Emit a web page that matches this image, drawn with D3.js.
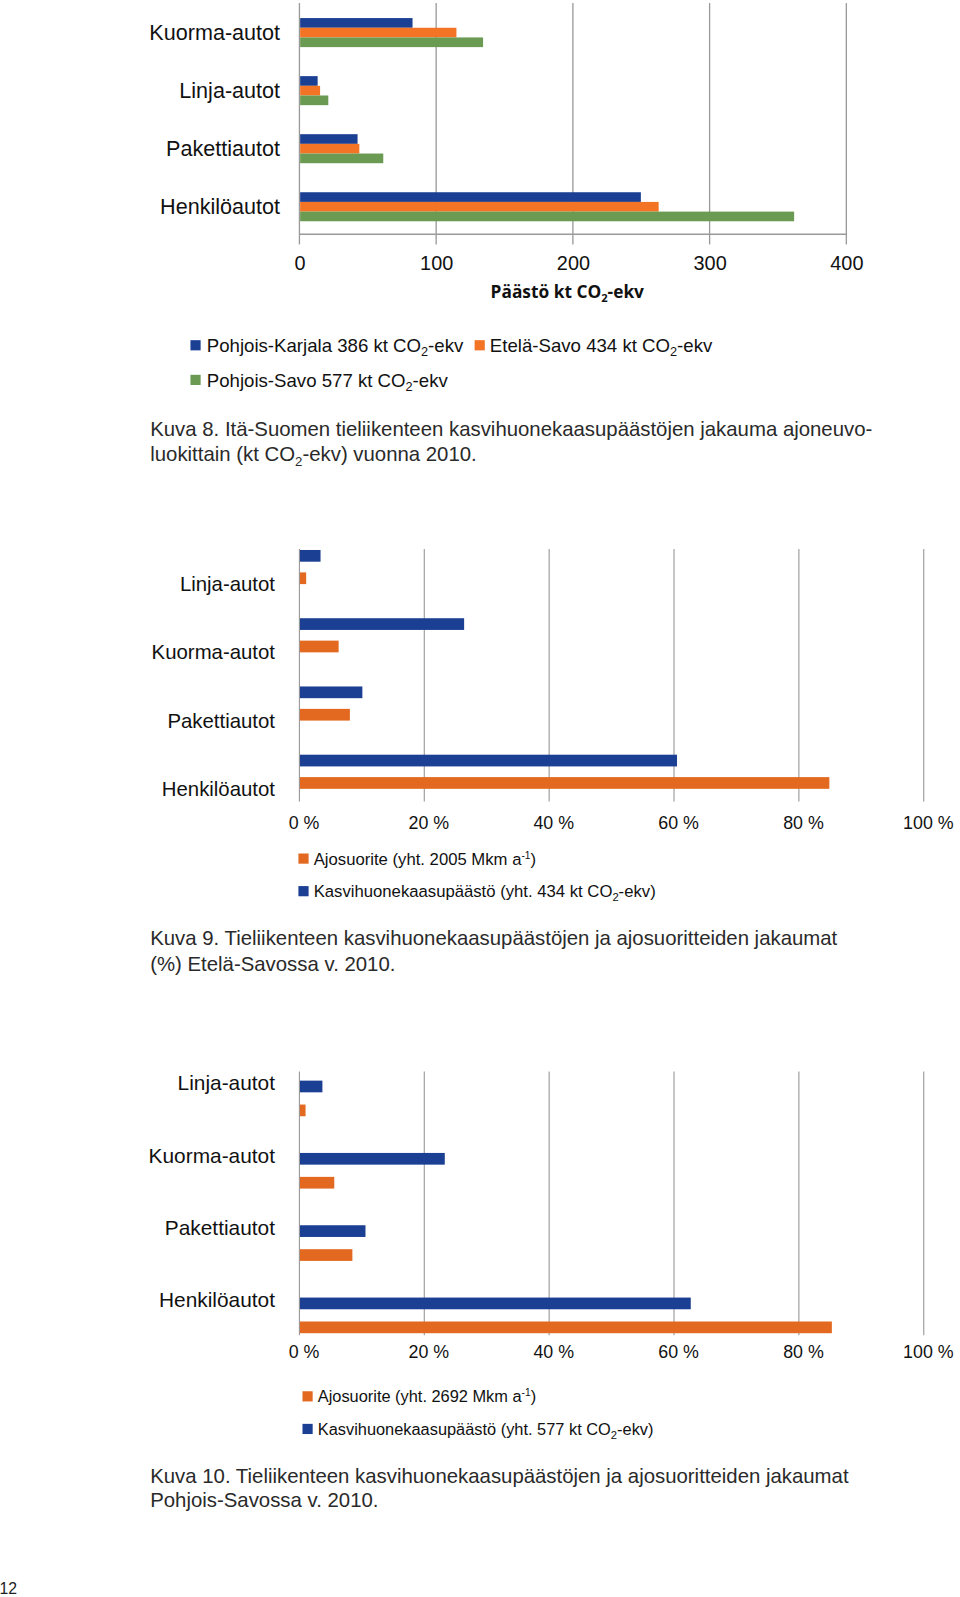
<!DOCTYPE html>
<html><head><meta charset="utf-8">
<script src="https://cdn.jsdelivr.net/npm/d3@7"></script>
<style>
html,body{margin:0;padding:0;background:#fff;}
svg{display:block;font-family:"Liberation Sans",Arial,sans-serif;}
</style></head>
<body>
<svg id="c" width="960" height="1597" viewBox="0 0 942.6 1568" preserveAspectRatio="none"></svg>
<script>
// ---------- DATA ----------
// Chart 1 (Kuva 8): emissions by vehicle class, kt CO2-ekv
const categories1 = ["Kuorma-autot", "Linja-autot", "Pakettiautot", "Henkilöautot"];
const pohjoisKarjala = [82.2, 12.8, 42.0, 249.2];
const etelaSavo = [114.3, 14.6, 43.3, 262.2];
const pohjoisSavo = [133.8, 20.6, 60.8, 361.3];
const seriesNames1 = ["Pohjois-Karjala 386 kt CO|2|-ekv", "Etelä-Savo 434 kt CO|2|-ekv", "Pohjois-Savo 577 kt CO|2|-ekv"];
const ticks1 = [0, 100, 200, 300, 400];
const axisTitle1 = "Päästö kt CO|2|-ekv";

// Chart 2 (Kuva 9): Etelä-Savo shares, %
const categories2 = ["Linja-autot", "Kuorma-autot", "Pakettiautot", "Henkilöautot"];
const esPaasto = [3.3, 26.3, 10.0, 60.4];
const esAjosuorite = [1.0, 6.2, 8.0, 84.8];

// Chart 3 (Kuva 10): Pohjois-Savo shares, %
const psPaasto = [3.6, 23.2, 10.5, 62.6];
const psAjosuorite = [0.9, 5.5, 8.4, 85.2];

const pctTicks = [0, 20, 40, 60, 80, 100];

const captions = [
  ["Kuva 8. Itä-Suomen tieliikenteen kasvihuonekaasupäästöjen jakauma ajoneuvo-", "luokittain (kt CO|2|-ekv) vuonna 2010."],
  ["Kuva 9. Tieliikenteen kasvihuonekaasupäästöjen ja ajosuoritteiden jakaumat", "(%) Etelä-Savossa v. 2010."],
  ["Kuva 10. Tieliikenteen kasvihuonekaasupäästöjen ja ajosuoritteiden jakaumat", "Pohjois-Savossa v. 2010."]
];

// ---------- STYLE ----------
const BLUE = "#1b3f92", ORANGE1 = "#f27424", GREEN = "#6b9b52", ORANGE2 = "#e2691f";
const GRID = "#9a9a9a";

const svg = d3.select("#c");

// text with "|sub|" markers for subscripts
function rich(sel, str, subSize, shift) {
  const parts = str.split("|");
  parts.forEach((p, i) => {
    if (!p) return;
    const t = sel.append("tspan").text(p);
    if (i % 2 === 1) {
      t.attr("font-size", subSize).attr("dy", shift);
    } else if (i > 0) {
      t.attr("dy", -shift);
    }
  });
  return sel;
}

// ================= CHART 1 =================
{
  const x = d3.scaleLinear().domain([0, 400]).range([294, 831]);
  const y = d3.scaleBand().domain(categories1).range([3.5, 231.5]);
  const g = svg.append("g");
  const gTop = 3, gBot = 240, axisY = 230;
  g.selectAll("line.grid").data(ticks1).join("line")
    .attr("x1", d => x(d)).attr("x2", d => x(d))
    .attr("y1", gTop).attr("y2", gBot)
    .attr("stroke", GRID).attr("stroke-width", 1.3);
  g.append("line").attr("x1", x(0)).attr("x2", x(400))
    .attr("y1", axisY).attr("y2", axisY)
    .attr("stroke", GRID).attr("stroke-width", 1.3);
  const series = [pohjoisKarjala, etelaSavo, pohjoisSavo];
  const cols = [BLUE, ORANGE1, GREEN];
  const bh = y.bandwidth() * 0.5 / 3;
  series.forEach((s, si) => {
    g.selectAll(null).data(s).join("rect")
      .attr("x", x(0) + 0.7)
      .attr("y", (d, i) => y(categories1[i]) + y.bandwidth() * 0.25 + si * bh)
      .attr("width", d => x(d) - x(0))
      .attr("height", bh)
      .attr("fill", cols[si]);
  });
  g.selectAll("text.cat").data(categories1).join("text")
    .attr("x", 275).attr("y", d => y(d) + y.bandwidth() / 2)
    .attr("dy", "0.35em").attr("text-anchor", "end")
    .attr("font-size", 21.2).attr("fill", "#111").text(d => d);
  const ax = d3.axisBottom(x).tickValues(ticks1).tickSize(0).tickPadding(0);
  const ag = g.append("g").attr("transform", "translate(0,251)").call(ax);
  ag.select(".domain").remove();
  ag.selectAll("text").attr("font-size", 19.5).attr("fill", "#111")
    .attr("font-family", "Liberation Sans, Arial, sans-serif").attr("dy", "0.71em");
  const at = g.append("text").attr("x", 557).attr("y", 293).attr("text-anchor", "middle")
    .attr("font-size", 17).attr("font-weight", "bold").attr("fill", "#111")
    .attr("font-family", "Open Sans, Liberation Sans, sans-serif");
  rich(at, axisTitle1, 11, 4);
  const leg = [[187, 334, 203], [466, 334, 481], [187, 368, 203]];
  seriesNames1.forEach((n, i) => {
    const [sx, sy, tx] = leg[i];
    g.append("rect").attr("x", sx).attr("y", sy).attr("width", 10).attr("height", 10).attr("fill", cols[i]);
    const t = g.append("text").attr("x", tx).attr("y", sy + 11.5).attr("font-size", 18.3).attr("fill", "#111");
    rich(t, n, 12.5, 4);
  });
}

// ============ percentage bar chart helper ============
function pctChart(opts) {
  const x = d3.scaleLinear().domain([0, 100]).range([294, 907]);
  const y = d3.scaleBand().domain(categories2).range(opts.yRange);
  const g = svg.append("g");
  g.selectAll("line.grid").data(pctTicks).join("line")
    .attr("x1", d => x(d)).attr("x2", d => x(d))
    .attr("y1", opts.gTop).attr("y2", opts.gBot)
    .attr("stroke", GRID).attr("stroke-width", 1.1);
  const bw = y.bandwidth();
  const bh = 11.5;
  g.selectAll(null).data(opts.paasto).join("rect")
    .attr("x", x(0) + 0.5)
    .attr("y", (d, i) => y(categories2[i]) + opts.blueOff)
    .attr("width", d => x(d) - x(0)).attr("height", bh).attr("fill", BLUE);
  g.selectAll(null).data(opts.ajo).join("rect")
    .attr("x", x(0) + 0.5)
    .attr("y", (d, i) => y(categories2[i]) + opts.orangeOff)
    .attr("width", d => x(d) - x(0)).attr("height", bh).attr("fill", ORANGE2);
  g.selectAll("text.cat").data(categories2).join("text")
    .attr("x", opts.catX).attr("y", d => y(d) + bw / 2)
    .attr("dy", "0.35em").attr("text-anchor", "end")
    .attr("font-size", opts.catSize).attr("fill", "#111").text(d => d);
  const ax = d3.axisBottom(x).tickValues(pctTicks).tickSize(0).tickPadding(0)
    .tickFormat(d => d + " %");
  const ag = g.append("g").attr("transform", `translate(0,${opts.tickY})`).call(ax);
  ag.select(".domain").remove();
  ag.selectAll("text").attr("font-size", 17.5).attr("fill", "#111")
    .attr("font-family", "Liberation Sans, Arial, sans-serif").attr("dy", "0.35em")
    .attr("dx", 4);
  const [lx, ly] = opts.legend;
  g.append("rect").attr("x", lx).attr("y", ly).attr("width", 10).attr("height", 10).attr("fill", ORANGE2);
  const t1 = g.append("text").attr("x", lx + 15).attr("y", ly + 11).attr("font-size", opts.legSize).attr("fill", "#111");
  t1.append("tspan").text(opts.ajoLabel + " Mkm a");
  t1.append("tspan").text("-1").attr("font-size", 10).attr("dy", -6);
  t1.append("tspan").text(")").attr("dy", 6);
  g.append("rect").attr("x", lx).attr("y", ly + 32).attr("width", 10).attr("height", 10).attr("fill", BLUE);
  const t2 = g.append("text").attr("x", lx + 15).attr("y", ly + 43).attr("font-size", opts.legSize).attr("fill", "#111");
  rich(t2, opts.paastoLabel, 11, 4);
}

pctChart({
  paasto: esPaasto, ajo: esAjosuorite, yRange: [540, 808], gTop: 539, gBot: 787,
  blueOff: 0, orangeOff: 22, catX: 270, catSize: 20, tickY: 808, legSize: 16.4,
  legend: [293, 838], ajoLabel: "Ajosuorite (yht. 2005", paastoLabel: "Kasvihuonekaasupäästö (yht. 434 kt CO|2|-ekv)"
});
pctChart({
  paasto: psPaasto, ajo: psAjosuorite, yRange: [1028, 1312], gTop: 1052, gBot: 1311,
  blueOff: 33, orangeOff: 56.5, catX: 270, catSize: 20.5, tickY: 1327, legSize: 16.1,
  legend: [297, 1366], ajoLabel: "Ajosuorite (yht. 2692", paastoLabel: "Kasvihuonekaasupäästö (yht. 577 kt CO|2|-ekv)"
});

// ---------- CAPTIONS ----------
const capY = [[428, 453], [928, 953], [1456, 1480]];
captions.forEach((c, i) => {
  c.forEach((line, j) => {
    const t = svg.append("text").attr("x", 147.5).attr("y", capY[i][j])
      .attr("font-size", 20).attr("fill", "#2a2a2a");
    rich(t, line, 13, 5);
  });
});

svg.append("text").attr("x", -0.5).attr("y", 1565).attr("font-size", 15.5).attr("fill", "#222").text("12");
</script>
</body></html>
